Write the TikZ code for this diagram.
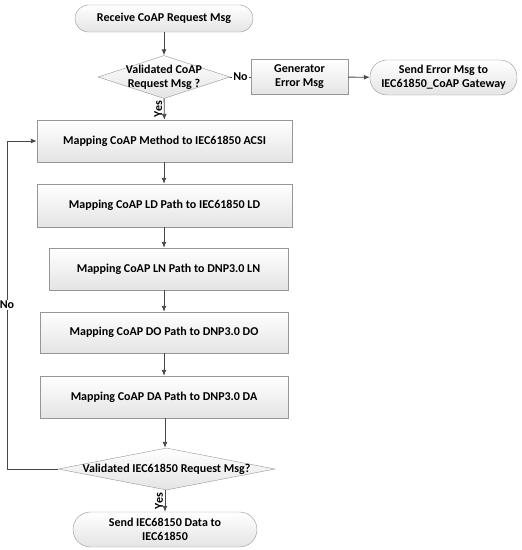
\documentclass[tikz,border=0pt]{standalone}
\usepackage{fontspec}
\setmainfont{Carlito}
\definecolor{edgegray}{RGB}{150,150,150}
\definecolor{arrowgray}{RGB}{70,70,70}
\definecolor{boxbottom}{RGB}{228,228,228}
\usepackage{tikz}
\usetikzlibrary{shapes,arrows,positioning,calc,arrows.meta}

\begin{document}
\begin{tikzpicture}[x=1pt,y=-1pt,
  font=\fontsize{12}{14}\selectfont\bfseries,
  box/.style={draw=edgegray,top color=white,bottom color=boxbottom,align=center,inner sep=0pt},
  term/.style={box,rounded corners=#1},
  dec/.style={box,diamond,inner sep=0pt},
  flow/.style={draw=arrowgray,line width=0.9pt,-{Latex[length=6pt,width=5pt]}},
  tag/.style={fill=white,inner sep=1pt}]
  \useasboundingbox (0,0) rectangle (522,550);
  \node[term=13.5pt,minimum width=178pt,minimum height=27pt] (recv) at (164,18.5) {Receive CoAP Request Msg};
  \node[dec,minimum width=132pt,minimum height=43pt,label={[align=center]center:{Validated CoAP\\Request Msg ?}}] (val1) at (164,77) {};
  \node[box,minimum width=97pt,minimum height=35pt] (gen) at (299.5,77) {Generator\\Error Msg};
  \node[term=17pt,minimum width=147pt,minimum height=35pt] (senderr) at (443.5,77.5) {Send Error Msg to\\IEC61850\_CoAP Gateway};
  \node[box,minimum width=255pt,minimum height=42pt] (m1) at (164.5,141) {Mapping CoAP Method to IEC61850 ACSI};
  \node[box,minimum width=255pt,minimum height=43pt] (m2) at (164.5,205.5) {Mapping CoAP LD Path to IEC61850 LD};
  \node[box,minimum width=239pt,minimum height=42pt] (m3) at (168.5,269) {Mapping CoAP LN Path to DNP3.0 LN};
  \node[box,minimum width=248pt,minimum height=41pt] (m4) at (164,332.5) {Mapping CoAP DO Path to DNP3.0 DO};
  \node[box,minimum width=248pt,minimum height=42pt] (m5) at (164,397) {Mapping CoAP DA Path to DNP3.0 DA};
  \node[dec,minimum width=217pt,minimum height=42pt,label={[align=center]center:{Validated IEC61850 Request Msg?}}] (val2) at (166.5,469) {};
  \node[term=17.5pt,minimum width=184pt,minimum height=35pt] (sendok) at (165,529.5) {Send IEC68150 Data to\\IEC61850};
  \coordinate (loop) at (7,469);
  \draw[flow] (recv) -- (val1);
  \draw[flow] (val1) -- node[midway,left,inner sep=1.5pt]{\rotatebox{90}{Yes}} (m1);
  \draw[draw=arrowgray,line width=0.9pt] (val1) -- node[tag]{No} (gen);
  \draw[flow] (gen) -- (senderr);
  \draw[flow] (m1.south -| 164,0) -- (m2.north -| 164,0);
  \draw[flow] (m2.south -| 164,0) -- (m3.north -| 164,0);
  \draw[flow] (m3.south -| 164,0) -- (m4.north -| 164,0);
  \draw[flow] (m4.south -| 164,0) -- (m5.north -| 164,0);
  \draw[flow] (m5.south -| 165,0) -- (val2.north -| 165,0);
  \draw[flow] (val2.south -| 165,0) -- node[midway,left,inner sep=1.5pt]{\rotatebox{90}{Yes}} (sendok.north -| 165,0);
  \draw[flow] (val2.west) -- (loop) |- node[pos=0.25,tag]{No} (m1.west);
\end{tikzpicture}
\end{document}
